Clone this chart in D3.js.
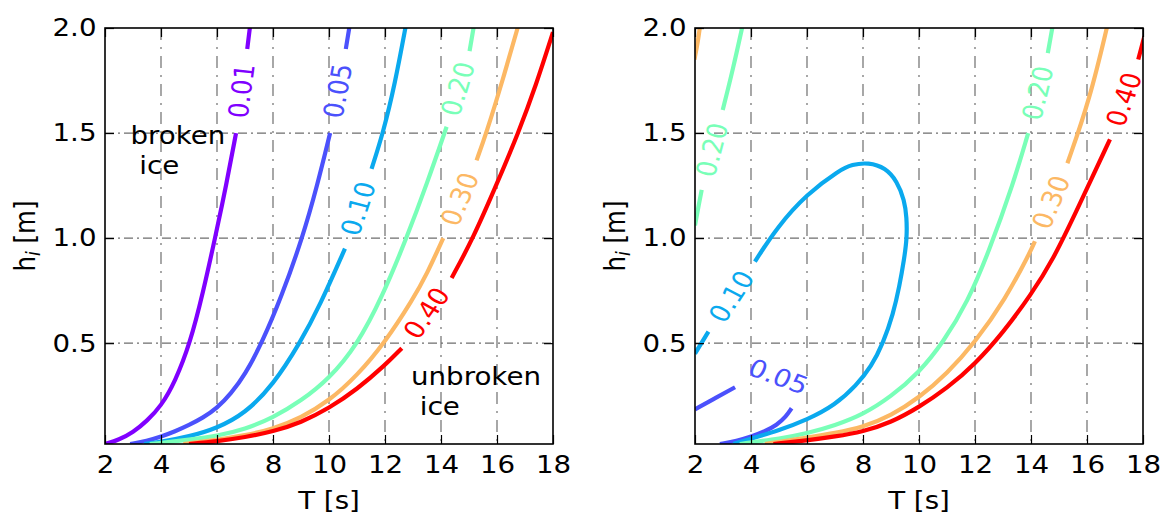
<!DOCTYPE html>
<html><head><meta charset="utf-8">
<script src="https://cdn.jsdelivr.net/npm/d3@7"></script>
<style>html,body{margin:0;padding:0;background:#fff;}svg{display:block;}</style>
</head><body>
<script>
// ---------- data ----------
const xTicks = [2, 4, 6, 8, 10, 12, 14, 16, 18];
const yTicks = [0.5, 1.0, 1.5, 2.0];
const levels = [0.01, 0.05, 0.10, 0.20, 0.30, 0.40];
const levelLabels = ["0.01", "0.05", "0.10", "0.20", "0.30", "0.40"];

// left panel contours: [T, h]; null = gap for inline label
const left001 = [[2,0.02],[2.5,0.04],[3,0.075],[3.5,0.13],[4,0.2],[4.5,0.315],[5.04,0.5],[5.5,0.74],[5.93,1.0],[6.32,1.245],[6.68,1.5],null,[7.08,1.9],[7.2,2.03]];
const left005 = [[2.9,0.02],[3.5,0.035],[4,0.055],[4.5,0.08],[5,0.11],[5.5,0.145],[6,0.19],[6.5,0.26],[7,0.35],[7.6,0.5],[8.3,0.72],[9.05,1.0],[9.58,1.25],[10.04,1.5],null,[10.6,1.9],[10.76,2.03]];
const left010 = [[3.4,0.02],[4,0.03],[5,0.055],[6,0.095],[7,0.165],[8,0.3],[8.96,0.5],[9.68,0.68],[10.57,0.95],null,[11.52,1.33],[11.93,1.5],[12.35,1.73],[12.77,2.03]];
const left020 = [[3.6,0.02],[4,0.025],[5,0.04],[6,0.058],[7,0.09],[8,0.145],[9,0.225],[10,0.33],[11,0.49],[11.9,0.72],[12.77,1.0],[13.5,1.26],[14.2,1.53],null,[15.02,1.89],[15.2,2.03]];
const left030 = [[4.8,0.02],[6,0.04],[7,0.06],[8,0.092],[9,0.145],[10,0.225],[11,0.345],[12,0.504],[13,0.71],[13.5,0.83],[14.08,1.0],null,[15.27,1.37],[15.62,1.5],[16.2,1.75],[16.8,2.03]];
const left040 = [[5,0.02],[6,0.033],[7,0.052],[8,0.079],[9,0.122],[10,0.19],[11,0.28],[12,0.395],[12.6,0.476],null,[14.38,0.81],[15.15,1.0],[16,1.26],[16.76,1.5],[17.4,1.73],[18,1.98]];

// right panel contours
const right005 = [[2.89,0.02],[3.5,0.035],[4,0.055],[4.5,0.08],[4.92,0.11],[5.25,0.15],[5.45,0.19],null,[3.43,0.29],[2.75,0.24],[2.0,0.185]];
const right005LabelAt = [4.975, 0.34];
const right010 = [[3.37,0.02],[4,0.045],[5,0.085],[6,0.135],[7,0.205],[7.77,0.3],[8.3,0.39],[8.72,0.5],[9.08,0.64],[9.3,0.77],[9.47,0.9],[9.57,1.0],[9.56,1.1],[9.48,1.18],[9.22,1.27],[8.8,1.335],[8.19,1.36],[7.6,1.35],[7.18,1.325],[5.99,1.21],[4.92,1.05],[4.14,0.888],null,[2.48,0.555],[2.0,0.45]];
const right020 = [[3.6,0.02],[4,0.028],[5,0.045],[6,0.07],[7,0.108],[8,0.16],[9,0.245],[10,0.36],[10.85,0.5],[11.75,0.7],[12.48,0.93],[13.37,1.26],[13.9,1.5],null,[14.6,1.88],[14.8,2.03]];
const right020b = [[2.0,1.06],[2.08,1.12],[2.24,1.23],null,[2.99,1.61],[3.35,1.8],[3.73,2.03]];
const right030 = [[4.5,0.02],[5,0.03],[6,0.05],[7,0.072],[8,0.1],[9,0.155],[10,0.24],[11,0.355],[12,0.504],[13.07,0.706],[13.96,0.93],[14.14,0.985],null,[15.3,1.356],[16.1,1.66],[16.76,2.03]];
const right030b = [[1.98,1.85],[2.1,1.93],[2.2,2.03]];
const right040 = [[4.8,0.02],[6,0.037],[7,0.055],[8,0.079],[9,0.122],[10,0.195],[11,0.285],[12,0.4],[13,0.55],[14,0.73],[14.8,0.9],[15.63,1.13],[16.82,1.47],null,[17.83,1.85],[18.05,1.96]];

const leftNotes = [{lines: ["broken", " ice"], T: 2.91, h: 1.449}, {lines: ["unbroken", " ice"], T: 12.93, h: 0.301}];

// ---------- layout ----------
const W = 1161, H = 515;
const PW = 448, TOP = 28, BOT = 444;
const FS = 24.5, SX = 1.13;
const FONT = "DejaVu Sans";

function rainbow(t) {
  const c = v => Math.max(0, Math.min(1, v));
  const r = c(Math.abs(2 * t - 0.5)), g = c(Math.sin(Math.PI * t)), b = c(Math.cos(Math.PI * t / 2));
  return d3.rgb(r * 255, g * 255, b * 255).formatHex();
}
const colorOf = lev => rainbow((lev - levels[0]) / (levels[levels.length - 1] - levels[0]));
const labelOf = lev => levelLabels[levels.indexOf(lev)];

const panels = [
  {x0: 105, contours: [
    {lev: 0.01, pts: left001}, {lev: 0.05, pts: left005}, {lev: 0.10, pts: left010},
    {lev: 0.20, pts: left020}, {lev: 0.30, pts: left030}, {lev: 0.40, pts: left040}], notes: leftNotes},
  {x0: 695, contours: [
    {lev: 0.05, pts: right005, labelAt: right005LabelAt}, {lev: 0.10, pts: right010},
    {lev: 0.20, pts: right020}, {lev: 0.20, pts: right020b},
    {lev: 0.30, pts: right030}, {lev: 0.30, pts: right030b, noLabel: true},
    {lev: 0.40, pts: right040}], notes: []}
];

const svg = d3.select("body").append("svg").attr("width", W).attr("height", H)
  .attr("font-family", FONT);
svg.append("rect").attr("width", W).attr("height", H).attr("fill", "#fff");

panels.forEach((p, pi) => {
  const x = d3.scaleLinear().domain([2, 18]).range([p.x0, p.x0 + PW]);
  const y = d3.scaleLinear().domain([0.02, 2.0]).range([BOT, TOP]);
  const g = svg.append("g");
  const clipId = "clip" + pi;
  svg.append("defs").append("clipPath").attr("id", clipId)
    .append("rect").attr("x", p.x0).attr("y", TOP).attr("width", PW).attr("height", BOT - TOP);

  // grid
  const grid = g.append("g").attr("stroke", "#6e6e6e").attr("stroke-width", 1.2);
  grid.selectAll("line.v").data(xTicks.slice(1, -1)).join("line")
    .attr("x1", d => x(d)).attr("x2", d => x(d)).attr("y1", TOP).attr("y2", BOT)
    .attr("stroke-dasharray", "12,7,2,7");
  grid.selectAll("line.h").data(yTicks.filter(d => d < 2)).join("line")
    .attr("y1", d => y(d)).attr("y2", d => y(d)).attr("x1", p.x0).attr("x2", p.x0 + PW)
    .attr("stroke-dasharray", "9,4,2,4");

  // contours
  const line = d3.line().defined(d => d !== null).x(d => x(d[0])).y(d => y(d[1]))
    .curve(d3.curveBasis);
  const cg = g.append("g").attr("clip-path", `url(#${clipId})`);
  p.contours.forEach(c => {
    cg.append("path").attr("d", line(c.pts)).attr("fill", "none")
      .attr("stroke", colorOf(c.lev)).attr("stroke-width", 4.2).attr("stroke-linecap", "butt")
      .attr("stroke-linejoin", "round");
    if (c.noLabel) return;
    const gi = c.pts.indexOf(null);
    if (gi < 0) return;
    const a = c.pts[gi - 1], b = c.pts[gi + 1];
    const ax = x(a[0]), ay = y(a[1]), bx = x(b[0]), by = y(b[1]);
    let cx = (ax + bx) / 2, cy = (ay + by) / 2;
    if (c.labelAt) { cx = x(c.labelAt[0]); cy = y(c.labelAt[1]); }
    let ang = Math.atan2(by - ay, (bx - ax) / SX) * 180 / Math.PI;
    if (ang > 90) ang -= 180;
    if (ang < -90) ang += 180;
    g.append("text").attr("transform", `translate(${cx},${cy}) scale(${SX},1) rotate(${ang})`)
      .attr("text-anchor", "middle").attr("dominant-baseline", "central")
      .attr("font-size", FS).attr("fill", colorOf(c.lev)).text(labelOf(c.lev));
  });

  // notes
  p.notes.forEach(n => {
    n.lines.forEach((t, i) => {
      g.append("text").attr("transform", `translate(${x(n.T)},${y(n.h) + i * 30.5}) scale(${SX},1)`)
        .attr("font-size", FS).attr("fill", "#000").style("white-space", "pre").text(t);
    });
  });

  // axes (inward ticks on all sides)
  const fmt = d3.format(".1f");
  const ax1 = g.append("g").attr("transform", `translate(0,${BOT})`)
    .call(d3.axisBottom(x).tickValues(xTicks).tickSize(-9).tickSizeOuter(0).tickPadding(11.5).tickFormat(d3.format("d")));
  const ax2 = g.append("g").attr("transform", `translate(0,${TOP})`)
    .call(d3.axisTop(x).tickValues(xTicks).tickSize(-9).tickSizeOuter(0).tickFormat(""));
  const ax3 = g.append("g").attr("transform", `translate(${p.x0},0)`)
    .call(d3.axisLeft(y).tickValues(yTicks).tickSize(-9).tickSizeOuter(0).tickPadding(8.5).tickFormat(fmt));
  const ax4 = g.append("g").attr("transform", `translate(${p.x0 + PW},0)`)
    .call(d3.axisRight(y).tickValues(yTicks).tickSize(-9).tickSizeOuter(0).tickFormat(""));
  [ax1, ax2, ax3, ax4].forEach(a => {
    a.select(".domain").remove();
    a.selectAll(".tick line").attr("stroke", "#000").attr("stroke-width", 1.2);
    a.selectAll("text").attr("font-family", FONT).attr("font-size", FS).attr("fill", "#000");
  });
  ax1.selectAll("text").attr("transform", `scale(${SX},1)`);
  ax3.selectAll("text").attr("x", -8.5 / SX).attr("transform", `scale(${SX},1)`);

  // spines
  g.append("rect").attr("x", p.x0).attr("y", TOP).attr("width", PW).attr("height", BOT - TOP)
    .attr("fill", "none").attr("stroke", "#000").attr("stroke-width", 1.6);

  // axis labels
  g.append("text").attr("transform", `translate(${p.x0 + PW / 2},509) scale(${SX},1)`)
    .attr("text-anchor", "middle").attr("font-size", FS).text("T [s]");
  const yl = g.append("text").attr("transform", `translate(${p.x0 - 70},${(TOP + BOT) / 2}) scale(${SX},1) rotate(-90)`)
    .attr("text-anchor", "middle").attr("font-size", FS);
  yl.append("tspan").text("h");
  yl.append("tspan").attr("font-size", 17).attr("font-style", "italic").attr("dy", 4).text("i");
  yl.append("tspan").attr("dy", -4).text(" [m]");
});
</script>
</body></html>
